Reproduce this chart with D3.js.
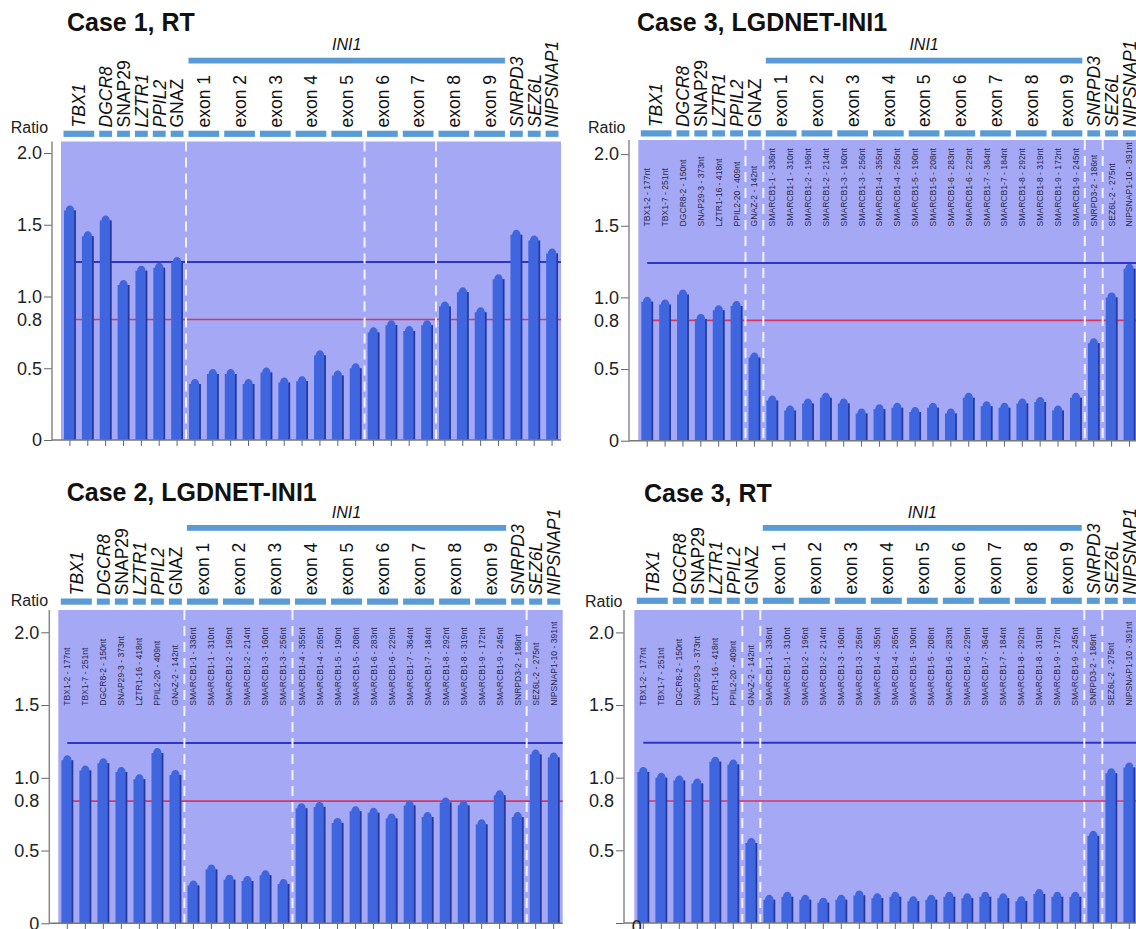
<!DOCTYPE html>
<html>
<head>
<meta charset="utf-8">
<script src="https://cdn.jsdelivr.net/npm/d3@7"></script>
<style>
  body { margin: 0; background: #fff; }
  svg { display: block; font-family: "Liberation Sans", Arial, sans-serif; }
</style>
</head>
<body>
<svg id="chart" width="1136" height="929"></svg>
<script>
// ---- data ----
const probes = [
  "TBX1-2 - 177nt", "TBX1-7 - 251nt", "DGCR8-2 - 150nt", "SNAP29-3 - 373nt",
  "LZTR1-16 - 418nt", "PPIL2-20 - 409nt", "GNAZ-2 - 142nt",
  "SMARCB1-1 - 336nt", "SMARCB1-1 - 310nt", "SMARCB1-2 - 196nt", "SMARCB1-2 - 214nt",
  "SMARCB1-3 - 160nt", "SMARCB1-3 - 256nt", "SMARCB1-4 - 355nt", "SMARCB1-4 - 265nt",
  "SMARCB1-5 - 190nt", "SMARCB1-5 - 208nt", "SMARCB1-6 - 283nt", "SMARCB1-6 - 229nt",
  "SMARCB1-7 - 364nt", "SMARCB1-7 - 184nt", "SMARCB1-8 - 292nt", "SMARCB1-8 - 319nt",
  "SMARCB1-9 - 172nt", "SMARCB1-9 - 245nt", "SNRPD3-2 - 186nt", "SEZ6L-2 - 275nt",
  "NIPSNAP1-10 - 391nt"
];
const headerLabels = ["TBX1", "DGCR8", "SNAP29", "LZTR1", "PPIL2", "GNAZ",
  "exon 1", "exon 2", "exon 3", "exon 4", "exon 5", "exon 6", "exon 7", "exon 8", "exon 9",
  "SNRPD3", "SEZ6L", "NIPSNAP1"];
const headerSpans = [2, 1, 1, 1, 1, 1, 2, 2, 2, 2, 2, 2, 2, 2, 2, 1, 1, 1];
const uprightLabels = ["SNAP29", "GNAZ"];
const geneBlock = { name: "INI1", from: 7, to: 25 };

const yTicks = [0, 0.5, 1.0, 1.5, 2.0];
const lowerLimit = 0.84;   // drawn with the "0.8" label
const upperLimit = 1.24;

const case1RT = [1.60, 1.42, 1.53, 1.08, 1.18, 1.20, 1.24, 0.39, 0.46, 0.46, 0.39, 0.47, 0.40, 0.41,
  0.59, 0.45, 0.50, 0.75, 0.80, 0.76, 0.80, 0.93, 1.03, 0.89, 1.12, 1.43, 1.39, 1.30];
const case3LGDNET = [0.97, 0.95, 1.02, 0.85, 0.91, 0.94, 0.58, 0.28, 0.21, 0.26, 0.30, 0.26, 0.19, 0.22,
  0.23, 0.20, 0.23, 0.19, 0.30, 0.24, 0.23, 0.26, 0.27, 0.21, 0.30, 0.68, 1.00, 1.20];
const case2LGDNET = [1.12, 1.05, 1.10, 1.04, 0.99, 1.17, 1.02, 0.26, 0.37, 0.30, 0.29, 0.33, 0.27, 0.79,
  0.80, 0.69, 0.77, 0.76, 0.72, 0.81, 0.73, 0.83, 0.81, 0.68, 0.88, 0.73, 1.16, 1.14];
const case3RT = [1.04, 1.00, 0.98, 0.96, 1.11, 1.09, 0.55, 0.16, 0.18, 0.16, 0.14, 0.16, 0.19, 0.17,
  0.18, 0.15, 0.16, 0.18, 0.17, 0.18, 0.17, 0.15, 0.20, 0.18, 0.18, 0.60, 1.03, 1.07];

// dashed segment breaks: index of the probe after which a break is drawn
const case1Breaks = [6, 16, 20];
const case3LGDNETBreaks = [5, 6, 24, 25];
const case2Breaks = [6, 12, 25];
const case3RTBreaks = [5, 6, 24, 25];

// ---- layout ----
const panels = [
  { title: "Case 1, RT", values: case1RT, breaks: case1Breaks, showProbes: false,
    ax: 52, bgL: 61, bgR: 561, bgTop: 141.5, y0: 440, unit: 143.5,
    segTop: 130.7, iniTop: 57.7, titleX: 67, titleY: 31, ratioX: 10.7, ratioY: 133 },
  { title: "Case 3, LGDNET-INI1", values: case3LGDNET, breaks: case3LGDNETBreaks, showProbes: true,
    ax: 629, bgL: 638.3, bgR: 1138.4, bgTop: 140, y0: 440.7, unit: 143.3,
    segTop: 130.3, iniTop: 57.7, titleX: 637, titleY: 31, ratioX: 588, ratioY: 133 },
  { title: "Case 2, LGDNET-INI1", values: case2LGDNET, breaks: case2Breaks, showProbes: true,
    ax: 49.3, bgL: 58.3, bgR: 562.7, bgTop: 610, y0: 923.3, unit: 145.5,
    segTop: 598.5, iniTop: 525, titleX: 66.7, titleY: 501, ratioX: 10.7, ratioY: 606 },
  { title: "Case 3, RT", values: case3RT, breaks: case3RTBreaks, showProbes: true, zeroGlitch: true,
    ax: 624, bgL: 634.3, bgR: 1138.3, bgTop: 610, y0: 923, unit: 145.3,
    segTop: 597.7, iniTop: 525, titleX: 644, titleY: 502, ratioX: 585, ratioY: 606.7 }
];

const svg = d3.select("#chart");
svg.append("rect").attr("width", 1136).attr("height", 929).attr("fill", "#fff");

panels.forEach(p => drawPanel(p));

function drawPanel(p) {
  const g = svg.append("g");
  const x = d3.scaleBand().domain(d3.range(probes.length)).range([p.bgL, p.bgR]);
  const y = d3.scaleLinear().domain([0, 2]).range([p.y0, p.y0 - 2 * p.unit]);
  const step = x.step();
  const cx = i => x(i) + step / 2;

  // title + Ratio
  g.append("text").attr("x", p.titleX).attr("y", p.titleY)
    .attr("font-size", 25).attr("font-weight", "bold").attr("fill", "#111").text(p.title);
  g.append("text").attr("x", p.ratioX).attr("y", p.ratioY)
    .attr("font-size", 16).attr("fill", "#222").text("Ratio");

  // plot background
  g.append("rect").attr("x", p.bgL).attr("y", p.bgTop)
    .attr("width", p.bgR - p.bgL).attr("height", p.y0 - p.bgTop).attr("fill", "#a5a9f5");

  // header segments + labels
  let start = 0;
  headerLabels.forEach((lab, k) => {
    const span = headerSpans[k];
    const x0 = x(start) + 2.5, x1 = x(start) + span * step - 2.5;
    g.append("rect").attr("x", x0).attr("y", p.segTop).attr("width", x1 - x0).attr("height", 6.2)
      .attr("fill", "#5b9bd5");
    const italic = !lab.startsWith("exon") && !uprightLabels.includes(lab);
    g.append("text")
      .attr("transform", `translate(${(x0 + x1) / 2},${p.segTop - 3.2}) rotate(-90)`)
      .attr("dy", "0.36em").attr("font-size", 17.5)
      .attr("font-style", italic ? "italic" : "normal").attr("fill", "#111").text(lab);
    start += span;
  });

  // INI1 gene bar
  const gx0 = x(geneBlock.from) + 2.5, gx1 = x(geneBlock.to) - 2.5;
  g.append("rect").attr("x", gx0).attr("y", p.iniTop).attr("width", gx1 - gx0).attr("height", 5.8)
    .attr("fill", "#5b9bd5");
  g.append("text").attr("x", (gx0 + gx1) / 2).attr("y", p.iniTop - 7.5)
    .attr("text-anchor", "middle").attr("font-size", 16).attr("font-style", "italic")
    .attr("fill", "#111").text(geneBlock.name);

  // threshold lines (behind bars)
  g.append("line").attr("x1", cx(0)).attr("x2", p.bgR)
    .attr("y1", y(upperLimit)).attr("y2", y(upperLimit))
    .attr("stroke", "#2f36c6").attr("stroke-width", 2);
  g.append("line").attr("x1", cx(0)).attr("x2", p.bgR)
    .attr("y1", y(lowerLimit)).attr("y2", y(lowerLimit))
    .attr("stroke", "#d9365f").attr("stroke-width", 1.6);

  // dashed breaks
  g.selectAll(".brk").data(p.breaks).enter().append("line")
    .attr("x1", d => x(d) + step).attr("x2", d => x(d) + step)
    .attr("y1", p.bgTop).attr("y2", p.y0)
    .attr("stroke", "#f2f3ff").attr("stroke-width", 2).attr("stroke-dasharray", "10,6");

  // probe labels
  if (p.showProbes) {
    g.selectAll(".probe").data(probes).enter().append("text")
      .attr("transform", (d, i) => `translate(${cx(i)},${y(1.495)}) rotate(-90)`)
      .attr("dy", "0.35em").attr("font-size", 8.6).attr("fill", "#2a2a4e").text(d => d);
  }

  // bars with domed tops
  const half = 5.9, rx = 4.2, ry = 5;
  const bars = g.selectAll(".bar").data(p.values).enter().append("g");
  bars.append("path")
    .attr("d", (v, i) => {
      const c = cx(i), top = y(v), base = p.y0;
      return `M${c - half},${base}L${c - half},${top}L${c - rx},${top}` +
        `A${rx},${ry} 0 0 1 ${c + rx},${top}L${c + half},${top}L${c + half},${base}Z`;
    })
    .attr("fill", "#3f66df");
  bars.append("rect")
    .attr("x", (v, i) => cx(i) + half - 1.6).attr("y", v => y(v))
    .attr("width", 1.6).attr("height", v => p.y0 - y(v)).attr("fill", "#26389a");

  // x axis
  const xAxis = d3.axisBottom(x).tickSize(6).tickSizeOuter(0).tickFormat("");
  const xg = g.append("g").attr("transform", `translate(0,${p.y0})`).call(xAxis);
  xg.select(".domain").remove();
  xg.selectAll(".tick line").attr("stroke", "#666");
  g.append("line").attr("x1", p.ax).attr("x2", p.bgR).attr("y1", p.y0).attr("y2", p.y0)
    .attr("stroke", "#777").attr("stroke-width", 1.5);

  // y axis
  const yAxis = d3.axisLeft(y).tickValues(yTicks).tickSize(8).tickPadding(2).tickSizeOuter(0)
    .tickFormat(d => d === 0 ? "0" : d3.format(".1f")(d));
  const yg = g.append("g").attr("transform", `translate(${p.ax},0)`).call(yAxis);
  yg.select(".domain").remove();
  yg.selectAll(".tick line").attr("stroke", "#666");
  yg.selectAll(".tick text").attr("font-size", 18).attr("fill", "#222")
    .attr("font-family", "Liberation Sans, Arial, sans-serif");
  g.append("line").attr("x1", p.ax).attr("x2", p.ax).attr("y1", p.bgTop).attr("y2", p.y0 + 1)
    .attr("stroke", "#888").attr("stroke-width", 1.5);
  g.append("text").attr("x", p.ax - 10).attr("y", y(lowerLimit)).attr("dy", "0.35em")
    .attr("text-anchor", "end").attr("font-size", 18).attr("fill", "#222").text("0.8");

  if (p.zeroGlitch) {
    yg.selectAll(".tick").filter(d => d === 0).select("text").remove();
    g.append("text").attr("x", p.bgL + 2.5).attr("y", p.y0 + 10)
      .attr("text-anchor", "middle").attr("font-size", 18).attr("fill", "#222").text("0");
  }
}
</script>
</body>
</html>
